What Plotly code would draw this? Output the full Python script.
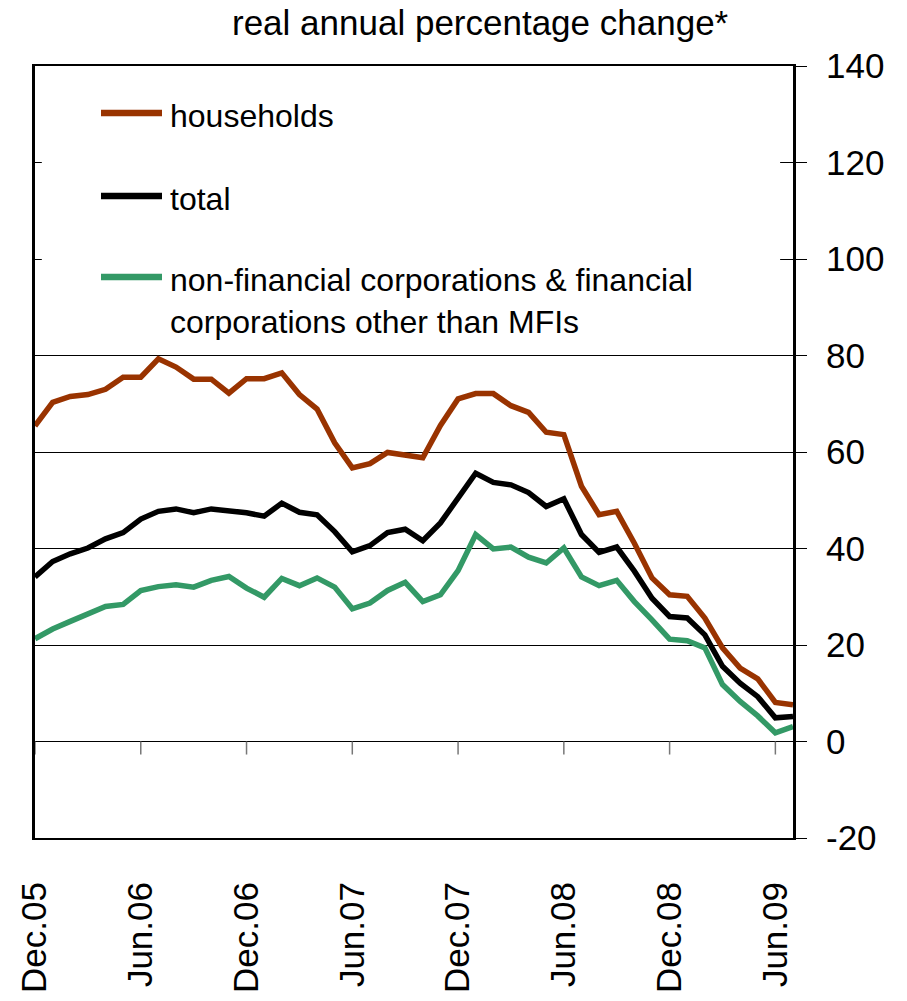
import pandas as pd
import plotly.graph_objects as go

# Monthly observations, Dec 2005 - Jul 2009
months = [d.strftime("%b.%y") for d in pd.date_range("2005-12-01", "2009-07-01", freq="MS")]

households = [65.4, 70.3, 71.5, 71.9, 73.0, 75.5, 75.5, 79.3, 77.6, 75.1, 75.1, 72.2, 75.2,
              75.2, 76.4, 71.9, 68.9, 61.9, 56.7, 57.6, 59.9, 59.4, 58.8, 65.5, 71.0,
              72.1, 72.1, 69.6, 68.2, 64.1, 63.6, 52.9, 47.0, 47.7, 41.1, 33.9, 30.4,
              30.1, 25.6, 19.4, 15.2, 13.0, 8.1, 7.6]
total = [34.1, 37.3, 38.9, 40.1, 42.0, 43.3, 46.1, 47.7, 48.2, 47.4, 48.2, 47.8, 47.4,
         46.7, 49.4, 47.5, 47.0, 43.5, 39.3, 40.6, 43.3, 44.0, 41.6, 45.3, 50.5,
         55.6, 53.7, 53.2, 51.6, 48.7, 50.3, 42.9, 39.2, 40.3, 35.3, 29.7, 25.9,
         25.6, 22.1, 15.6, 12.1, 9.3, 4.9, 5.2]
non_financial = [21.3, 23.3, 24.9, 26.3, 28.0, 28.4, 31.3, 32.1, 32.5, 32.0, 33.4, 34.2, 31.8,
                 29.9, 33.8, 32.3, 33.9, 32.0, 27.5, 28.7, 31.3, 33.0, 29.0, 30.4, 35.4,
                 42.9, 39.9, 40.3, 38.2, 37.0, 40.1, 34.1, 32.3, 33.4, 29.0, 25.2, 21.2,
                 20.9, 19.4, 11.8, 8.3, 5.3, 1.8, 3.1]

tick_months = ["Dec.05", "Jun.06", "Dec.06", "Jun.07", "Dec.07", "Jun.08", "Dec.08", "Jun.09"]
y_ticks = [-20, 0, 20, 40, 60, 80, 100, 120, 140]
y_tick_text = ["-20", "0", "20", "40", "60", "80", "100", "120", "140"]

series = [
    ("households", households, "#993300"),
    ("total", total, "#000000"),
    ("non-financial corporations & financial<br>corporations other than MFIs", non_financial, "#339966"),
]

FONT = "Liberation Sans, Arial, sans-serif"

fig = go.Figure()
# draw green first so black and brown sit on top
for name, vals, col in reversed(series):
    fig.add_trace(go.Scatter(x=months, y=vals, mode="lines", name=name,
                             line=dict(color=col, width=5.5), showlegend=False))

shapes = []
# white box behind the legend hides the upper gridlines
shapes.append(dict(type="rect", xref="paper", yref="y", x0=0.009, x1=0.983, y0=83, y1=138.5,
                   fillcolor="white", line=dict(width=0), layer="above"))
# small x-axis ticks hanging from the zero line
for m in tick_months:
    shapes.append(dict(type="line", xref="x", yref="y", x0=m, x1=m, y0=0, y1=-2.7,
                       line=dict(color="#777777", width=1.5)))

# hand-placed legend (pixel rows converted to paper fractions)
legend_y_px = [113, 196, 277]
def py(p):
    return (838 - p) / 772
def px(p):
    return (p - 35) / 758

annotations = []
for (name, vals, col), ypix in zip(series, legend_y_px):
    shapes.append(dict(type="line", xref="paper", yref="paper", x0=px(101), x1=px(162),
                       y0=py(ypix), y1=py(ypix), line=dict(color=col, width=6.5)))
    annotations.append(dict(text=name, xref="paper", yref="paper", x=px(168), y=py(ypix - 17),
                            xanchor="left", yanchor="top", showarrow=False, align="left",
                            font=dict(family=FONT, size=32, color="black")))

annotations.append(dict(text="real annual percentage change*", xref="paper", yref="paper",
                        x=px(480), y=py(22), xanchor="center", yanchor="middle", showarrow=False,
                        font=dict(family=FONT, size=35, color="black")))

fig.update_layout(
    width=907, height=1001,
    margin=dict(l=35, r=114, t=66, b=163),
    paper_bgcolor="white", plot_bgcolor="white",
    font=dict(family=FONT, color="black"),
    shapes=shapes, annotations=annotations,
)
fig.update_xaxes(
    type="category", categoryorder="array", categoryarray=months,
    range=[0, len(months) - 1], automargin=False,
    tickmode="array", tickvals=tick_months, ticktext=tick_months,
    tickangle=-90, tickfont=dict(family=FONT, size=35, color="black"),
    ticks="", showgrid=False, zeroline=False,
    showline=True, linecolor="black", linewidth=2, mirror=True,
    ticklabelstandoff=28,
)
fig.update_yaxes(
    side="right", range=[-20, 140], automargin=False,
    tickmode="array", tickvals=y_ticks, ticktext=y_tick_text,
    ticks="outside", ticklen=11, tickwidth=1, tickcolor="black",
    tickfont=dict(family=FONT, size=35, color="black"),
    showgrid=True, gridcolor="black", gridwidth=1, zeroline=False,
    showline=True, linecolor="black", linewidth=3, mirror=True,
    ticklabelstandoff=12,
)

fig.write_html("out.html")
